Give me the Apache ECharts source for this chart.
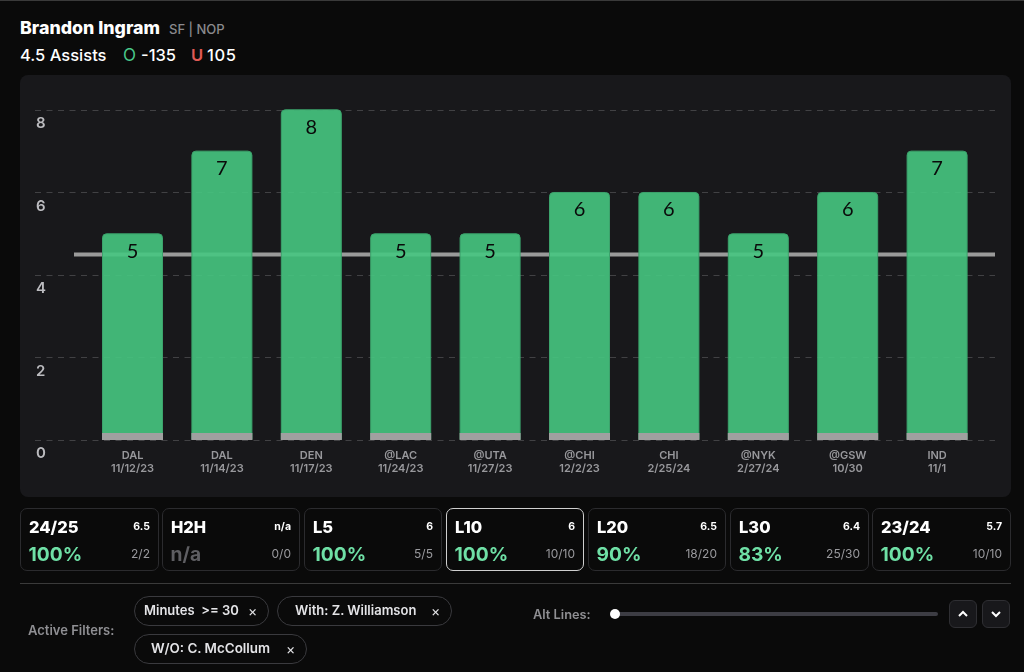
<!DOCTYPE html>
<html><head><meta charset="utf-8">
<script src="https://cdn.jsdelivr.net/npm/echarts@6/dist/echarts.min.js"></script>
<style>
html,body{margin:0;padding:0;background:#0a0a0a;width:1024px;height:672px;overflow:hidden;font-family:Inter,"Noto Sans",sans-serif;color:#fff}
.a{position:absolute;white-space:nowrap}
#topbar{left:0;top:0;width:1024px;height:1px;background:#3a3a3a}
#panel{left:20px;top:75px;width:991px;height:422px;background:#18181b;border-radius:8px}
#chart{position:absolute;left:0;top:0;width:1024px;height:672px}
.card{position:absolute;top:508px;height:61px;border:1px solid #2b2b2e;border-radius:7px;box-sizing:content-box}
.card.on{border-color:#cfcfcf}
.card .n{position:absolute;left:8px;top:8px;font-size:16.5px;font-weight:800;line-height:20px}
.card .v{position:absolute;right:8px;top:11px;font-size:10.5px;font-weight:700;line-height:14px}
.card .p{position:absolute;left:7.5px;top:33px;font-size:19.2px;font-weight:700;line-height:24px;color:#6fe0a6}
.card .p.na{color:#5e5e62}
.card .r{position:absolute;right:8px;top:38px;font-size:12px;color:#9a9a9e;line-height:14px}
.pill{position:absolute;box-sizing:border-box;height:30px;border:1.5px solid #3a3a3e;border-radius:15px;font-size:13px;font-weight:600;color:#e4e4e7;line-height:27px}
.pill span{position:absolute;top:0}
.pill .x{font-weight:400;font-size:14px}
.btn{position:absolute;top:600px;width:28px;height:28px;box-sizing:border-box;background:#18181b;border:1px solid #2f2f33;border-radius:6px}
</style></head><body>
<div id="topbar" class="a"></div>
<div class="a" style="left:20px;top:18px;font-size:17.8px;font-weight:800;line-height:20px">Brandon Ingram</div>
<div class="a" style="left:169px;top:20px;font-size:13px;color:#8a8a8e;line-height:18px;font-weight:500">SF | NOP</div>
<div class="a" style="left:20px;top:44px;font-size:16.5px;font-weight:500;line-height:22px">4.5 Assists</div>
<div class="a" style="left:123px;top:44px;font-size:17px;font-weight:400;line-height:22px;color:#49c78a">O</div>
<div class="a" style="left:141px;top:44px;font-size:16.5px;font-weight:500;line-height:22px">-135</div>
<div class="a" style="left:191px;top:44px;font-size:16.5px;font-weight:600;line-height:22px;color:#e05a55">U</div>
<div class="a" style="left:207px;top:44px;font-size:16.5px;font-weight:500;line-height:22px;letter-spacing:.6px">105</div>
<div id="panel" class="a"></div>
<div id="chart"></div>
<div id="cards"></div>
<div class="a" style="left:20px;top:583px;width:991px;height:1px;background:#3a3a3a"></div>
<div class="a" style="left:28px;top:622px;font-size:13px;font-weight:600;color:#8f8f93;line-height:16px">Active Filters:</div>
<div class="pill" style="left:134px;top:596px;width:135px"><span style="left:9px">Minutes &nbsp;&gt;= 30</span><span class="x" style="left:113px">×</span></div>
<div class="pill" style="left:277px;top:596px;width:175px"><span style="left:17px">With: Z. Williamson</span><span class="x" style="left:153px">×</span></div>
<div class="pill" style="left:134px;top:634px;width:173px"><span style="left:16px;font-size:13.4px">W/O: C. McCollum</span><span class="x" style="left:151px">×</span></div>
<div class="a" style="left:533px;top:607px;font-size:12.8px;font-weight:600;color:#8f8f93;line-height:16px">Alt Lines:</div>
<div class="a" style="left:614px;top:612px;width:324px;height:4px;border-radius:2px;background:#3d3d44"></div>
<div class="a" style="left:610px;top:609px;width:10px;height:10px;border-radius:5px;background:#fff"></div>
<div class="btn" style="left:949px"><svg width="26" height="26"><path d="M9 15l4-4 4 4" fill="none" stroke="#fff" stroke-width="2"/></svg></div>
<div class="btn" style="left:982px"><svg width="26" height="26"><path d="M9 11l4 4 4-4" fill="none" stroke="#fff" stroke-width="2"/></svg></div>
<script>
const opponents = ['DAL','DAL','DEN','@LAC','@UTA','@CHI','CHI','@NYK','@GSW','IND'];
const dates = ['11/12/23','11/14/23','11/17/23','11/24/23','11/27/23','12/2/23','2/25/24','2/27/24','10/30','11/1'];
const assists = [5,7,8,5,5,6,6,5,6,7];
const baseBand = [0.17,0.17,0.17,0.17,0.17,0.17,0.17,0.17,0.17,0.17];
const propLine = 4.5;
const yTicks = [0,2,4,6,8];
const cardNames = ['24/25','H2H','L5','L10','L20','L30','23/24'];
const cardAverages = ['6.5','n/a','6','6','6.5','6.4','5.7'];
const cardRates = ['100%','n/a','100%','100%','90%','83%','100%'];
const cardRecords = ['2/2','0/0','5/5','10/10','18/20','25/30','10/10'];
const cardLeft = [20,162,304,446,588,730,872];
const cardWidth = [137,136,136,136,136,137,137];

document.getElementById('cards').innerHTML = cardNames.map((n,i)=>
 `<div class="card${n==='L10'?' on':''}" style="left:${cardLeft[i]}px;width:${cardWidth[i]}px"><div class="n">${n}</div><div class="v">${cardAverages[i]}</div><div class="p${cardRates[i]==='n/a'?' na':''}">${cardRates[i]}</div><div class="r">${cardRecords[i]}</div></div>`).join('');

const categories = opponents.map((o,i)=>o+'\n'+dates[i]);
const plotTop=110, plotHeight=330;
const chart = echarts.init(document.getElementById('chart'));
chart.setOption({
  backgroundColor:'transparent',
  animation:false,
  grid:[
    {left:87.8,width:894,top:plotTop-0.7,height:plotHeight+0.7},
    {left:35,width:960,top:plotTop,height:plotHeight},
    {left:74,width:921,top:plotTop,height:plotHeight}
  ],
  xAxis:[
    {gridIndex:0,type:'category',data:categories,axisLine:{show:false},axisTick:{show:false},
     axisLabel:{color:'#98989c',fontSize:11,fontWeight:600,fontFamily:'Inter',lineHeight:13,margin:9,interval:0}},
    {gridIndex:1,type:'value',min:0,max:1,show:false},
    {gridIndex:2,type:'value',min:0,max:1,show:false}
  ],
  yAxis:[
    {gridIndex:0,type:'value',min:0,max:8,interval:2,show:false},
    {gridIndex:1,type:'value',min:0,max:8,interval:2,axisLine:{show:false},axisTick:{show:false},
     splitLine:{show:true,lineStyle:{color:'#414144',width:1,type:[6,5.5]}},
     axisLabel:{inside:true,margin:1,color:'#bcbcc0',fontSize:15,fontWeight:600,fontFamily:'Inter',verticalAlign:'top',padding:[6,0,0,0],
       formatter:v=>yTicks.includes(v)?String(v):''}},
    {gridIndex:2,type:'value',min:0,max:8,interval:2,show:false}
  ],
  series:[
    {type:'line',xAxisIndex:2,yAxisIndex:2,data:[[0,propLine],[1,propLine]],symbol:'none',z:1,silent:true,
     lineStyle:{color:'#9a9a9a',width:4}},
    {type:'bar',xAxisIndex:0,yAxisIndex:0,data:assists,barWidth:61,z:3,
     itemStyle:{color:'rgba(70,198,129,0.9)',borderRadius:[4,4,0,0],borderColor:'#3ca36c',borderWidth:1},
     label:{show:true,position:'insideTop',distance:8,color:'#0a0a0a',fontSize:20,fontFamily:'Lato'}},
    {type:'bar',xAxisIndex:0,yAxisIndex:0,data:baseBand,barWidth:61,barGap:'-100%',z:4,
     itemStyle:{color:'#a0a0a0'}}
  ]
});
</script>
</body></html>
